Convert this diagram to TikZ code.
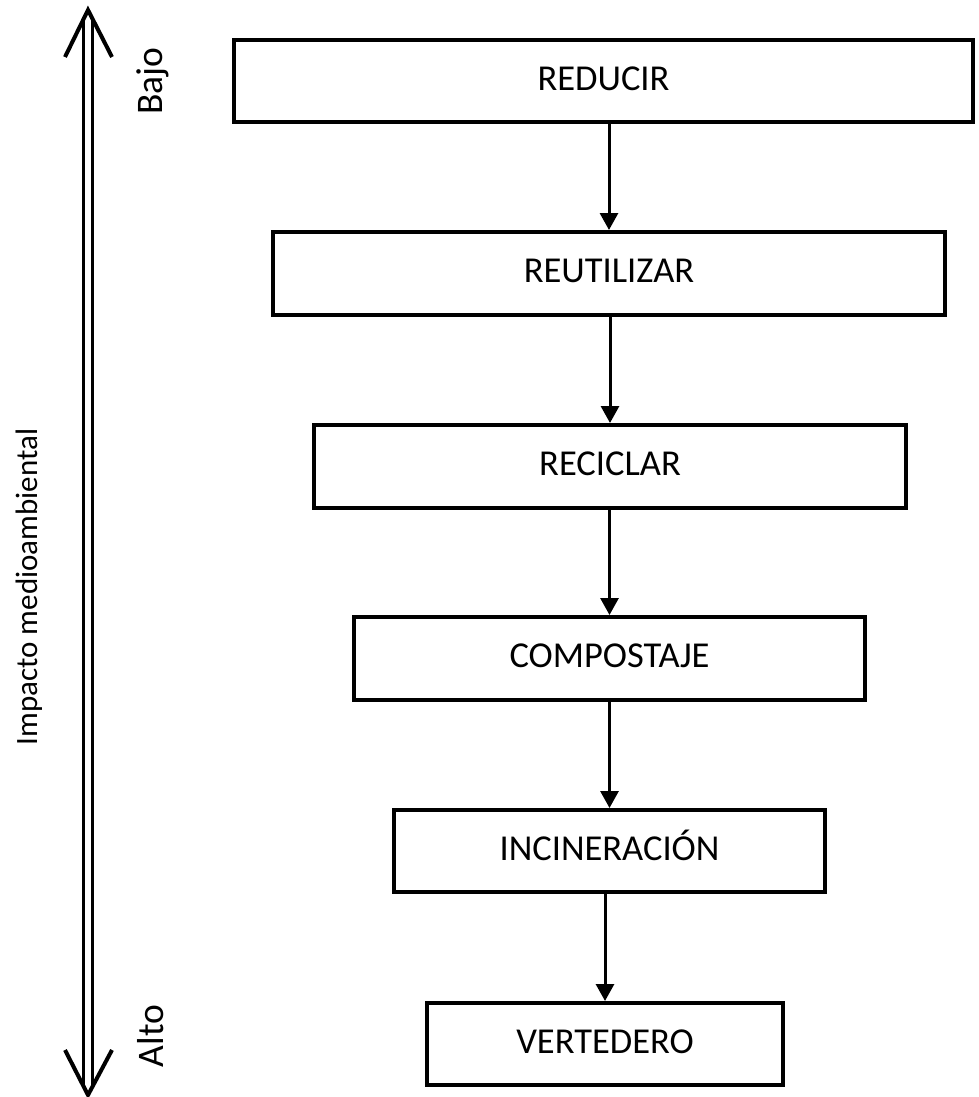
\documentclass[tikz,border=0pt]{standalone}
\usepackage{fontspec}
\setmainfont{Carlito}
\usetikzlibrary{arrows.meta}
\begin{document}
\begin{tikzpicture}[x=1pt,y=-1pt,
  stagebox/.style={draw, line width=4pt, rectangle, inner sep=0pt, text height=23.5pt, text depth=5pt, font=\fontsize{36.5}{40}\selectfont},
  flowarrow/.style={line width=3pt, -{Triangle[width=18pt,length=17pt]}},
  axisline/.style={line width=3pt},
  axishead/.style={line width=4pt, line join=miter},
  sidelabel/.style={rotate=90, anchor=base, inner sep=0pt}]
\useasboundingbox (0,0) rectangle (978,1097);
\node[stagebox, minimum width=739pt, minimum height=82pt] (reducir) at (603.5,81) {REDUCIR};
\node[stagebox, minimum width=672pt, minimum height=83pt] (reutilizar) at (609,273.5) {REUTILIZAR};
\node[stagebox, minimum width=592pt, minimum height=83pt] (reciclar) at (610,466.5) {RECICLAR};
\node[stagebox, minimum width=511pt, minimum height=83pt] (compostaje) at (609.5,658.5) {COMPOSTAJE};
\node[stagebox, minimum width=431pt, minimum height=82pt] (incineracion) at (609.5,851) {INCINERACIÓN};
\node[stagebox, minimum width=356pt, minimum height=82pt] (vertedero) at (605,1044) {VERTEDERO};
\foreach \a/\b in {reducir/reutilizar, reutilizar/reciclar, reciclar/compostaje, compostaje/incineracion, incineracion/vertedero}
  \draw[flowarrow] (\a.south -| \b.north) -- (\b.north);
% double-headed axis
\coordinate (toptip) at (88,10);
\coordinate (bottip) at (88,1095);
\coordinate (tl) at (65,57);
\coordinate (tr) at (112,57);
\coordinate (bl) at (65,1050);
\coordinate (br) at (112,1050);
\draw[axisline] (83.5,20) -- (83.5,1085);
\draw[axisline] (92.5,20) -- (92.5,1085);
\draw[axishead] (tl) -- (toptip) -- (tr);
\draw[axishead] (bl) -- (bottip) -- (br);
\node[sidelabel, font=\fontsize{37.5}{40}\selectfont] (bajo) at (162,81) {Bajo};
\node[sidelabel, font=\fontsize{37.5}{40}\selectfont] (alto) at (163,1036) {Alto};
\node[sidelabel, font=\fontsize{31}{34}\selectfont] (impacto) at (37,587) {Impacto medioambiental};
\end{tikzpicture}
\end{document}
